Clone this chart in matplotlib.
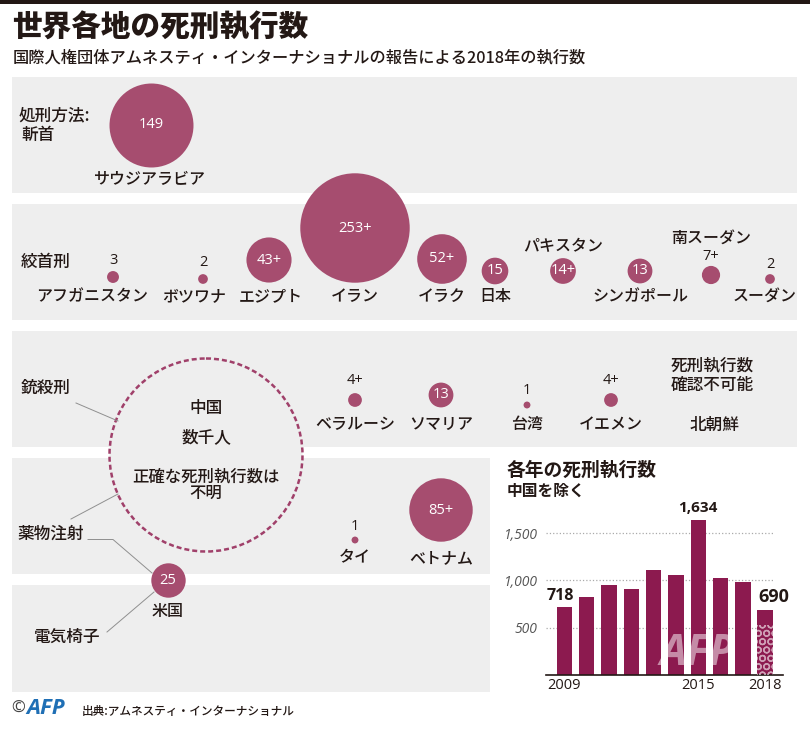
# -*- coding: utf-8 -*-
import numpy as np
import matplotlib
matplotlib.use('Agg')
import matplotlib.pyplot as plt
from matplotlib.patches import Rectangle, Circle

plt.rcParams['font.family'] = ['Noto Sans CJK JP', 'DejaVu Sans']

# --- data ---
saudi_names = ['サウジアラビア']
saudi_values = [149]
saudi_labels = ['149']

hanging_names = ['アフガニスタン', 'ボツワナ', 'エジプト', 'イラン', 'イラク', '日本',
                 'パキスタン', 'シンガポール', '南スーダン', 'スーダン']
hanging_values = [3, 2, 43, 253, 52, 15, 14, 13, 7, 2]
hanging_labels = ['3', '2', '43+', '253+', '52+', '15', '14+', '13', '7+', '2']

shooting_names = ['ベラルーシ', 'ソマリア', '台湾', 'イエメン']
shooting_values = [4, 13, 1, 4]
shooting_labels = ['4+', '13', '1', '4+']

injection_names = ['タイ', 'ベトナム']
injection_values = [1, 85]
injection_labels = ['1', '85+']

usa_names = ['米国']
usa_values = [25]
usa_labels = ['25']

years = [2009, 2010, 2011, 2012, 2013, 2014, 2015, 2016, 2017, 2018]
executions = [718, 823, 949, 907, 1107, 1055, 1634, 1027, 988, 690]
year_ticks = [2009, 2015, 2018]
count_ticks = [500, 1000, 1500]

# --- layout (pixels) ---
saudi_x, saudi_y, saudi_text = [151], [125], [(150, 178)]
hanging_x = [113, 203, 269, 355, 442, 495, 563, 640, 711, 770]
hanging_y = [277, 279, 260, 228, 259, 271, 271, 271, 275, 279]
hanging_text = [(92, 295), (194, 295), (271, 295), (355, 295), (442, 295), (495, 295),
                (563, 245), (640, 295), (711, 237), (765, 295)]
hanging_num = [(113, 260), (203, 263), None, None, None, None, None, None, (711, 256), (770, 265)]
shooting_x = [355, 441, 527, 611]
shooting_y = [400, 395, 405, 400]
shooting_text = [(355, 423), (441, 423), (527, 423), (611, 423)]
shooting_num = [(355, 381), None, (527, 390), (611, 380)]
injection_x = [355, 441]
injection_y = [540, 510]
injection_text = [(355, 556), (441, 557)]
injection_num = [(355, 527), None]
usa_x, usa_y, usa_text = [167.5], [580], [(168, 610)]

INK = '#231815'
BUBBLE = '#a64d6f'
BAR = '#8c1a4f'
PANEL = '#eeeeee'
LINE = '#8f8f8f'
NUM_FONT = ['Open Sans', 'Noto Sans CJK JP']
LATIN = ['Open Sans', 'DejaVu Sans']

fig = plt.figure(figsize=(8.1, 7.3), dpi=100)
ax = fig.add_axes([0, 0, 1, 1])
ax.set_xlim(0, 810)
ax.set_ylim(730, 0)
ax.axis('off')

ax.add_patch(Rectangle((0, 0), 810, 4, color=INK, lw=0))
for x0, y0, w, h in [(12, 77, 785, 116), (12, 204, 785, 116), (12, 331, 785, 116),
                     (12, 458, 478, 116), (12, 585, 478, 107)]:
    ax.add_patch(Rectangle((x0, y0), w, h, color=PANEL, lw=0, zorder=0))


def txt(x, y, s, size=11.5, ha='center', weight='medium', color=INK, **kw):
    ax.text(x, y, s, fontsize=size, ha=ha, va='center', fontweight=weight, color=color, **kw)


def bubbles(xs, ys, values, labels, names, text_pos, num_pos=None):
    r = 3.44 * np.sqrt(values)
    s = (2 * r * 0.72) ** 2
    ax.scatter(xs, ys, s=s, color=BUBBLE, lw=0, zorder=3)
    for i in range(len(xs)):
        txt(text_pos[i][0], text_pos[i][1] + 1.5, names[i], zorder=4)
        if num_pos is not None and num_pos[i] is not None:
            txt(num_pos[i][0], num_pos[i][1], labels[i], size=10.5, family=NUM_FONT, zorder=4)
        else:
            txt(xs[i], ys[i], labels[i], size=10.5, color='white', family=NUM_FONT, zorder=4)


txt(12, 28, '世界各地の死刑執行数', size=21.3, ha='left', weight='black')
txt(13, 58, '国際人権団体アムネスティ・インターナショナルの報告による2018年の執行数', size=11.7, ha='left')

# China circle sits over the gap between the panels
ax.add_patch(Circle((206, 455), 96.5, fc=PANEL, ec='#a0406a', lw=1.8, ls=(0, (2.0, 1.2)), zorder=1))

bubbles(saudi_x, saudi_y, saudi_values, saudi_labels, saudi_names, saudi_text)
bubbles(hanging_x, hanging_y, hanging_values, hanging_labels, hanging_names, hanging_text, hanging_num)
bubbles(shooting_x, shooting_y, shooting_values, shooting_labels, shooting_names, shooting_text, shooting_num)
bubbles(injection_x, injection_y, injection_values, injection_labels, injection_names, injection_text, injection_num)
bubbles(usa_x, usa_y, usa_values, usa_labels, usa_names, usa_text)

# methods
txt(19, 115, '処刑方法:', ha='left', size=12)
txt(21, 135, '斬首', ha='left', size=12)
txt(21, 262, '絞首刑', ha='left', size=12)
txt(21, 388, '銃殺刑', ha='left', size=12)
txt(17, 534, '薬物注射', ha='left', size=12)
txt(34, 637, '電気椅子', ha='left', size=12)
txt(671, 365, '死刑執行数', ha='left', size=12)
txt(671, 385, '確認不可能', ha='left', size=12)
txt(715, 425, '北朝鮮', size=12)

txt(206, 408, '中国', size=12)
txt(206, 437, '数千人', size=12)
txt(206, 477, '正確な死刑執行数は', size=11.8)
txt(206, 493, '不明', size=11.8)

# leader lines
for lx, ly in [([76, 118], [403, 421]), ([71, 118], [519, 494]),
               ([88, 113, 152], [539.5, 539.5, 573]), ([107, 154], [632, 592])]:
    ax.plot(lx, ly, color=LINE, lw=0.7, zorder=2)

# bar chart
txt(507, 470, '各年の死刑執行数', size=13.5, ha='left', weight='bold')
txt(507, 491, '中国を除く', size=11.3, ha='left', weight='bold')

bx = fig.add_axes([546 / 810, (730 - 675.3) / 730, 237 / 810, 165.3 / 730])
pos = np.arange(len(years))
bx.bar(pos, executions, width=0.69, color=BAR, lw=0, zorder=2)
bx.set_xlim(-0.825, 9.80)
bx.set_ylim(0, 1743)
bx.patch.set_alpha(0)
for side in ['top', 'right', 'left']:
    bx.spines[side].set_visible(False)
bx.spines['bottom'].set_color(INK)
bx.spines['bottom'].set_linewidth(1.2)
bx.set_yticks(count_ticks)
bx.set_yticklabels([f'{c:,}' for c in count_ticks], fontsize=10, style='italic',
                   color='#555555', family=LATIN)
bx.set_xticks([years.index(y) for y in year_ticks])
bx.set_xticklabels(year_ticks, fontsize=10.5, color=INK, family=LATIN)
bx.tick_params(length=0, axis='both')
bx.tick_params(axis='y', pad=6)
bx.tick_params(axis='x', pad=2)
bx.hlines(count_ticks, -0.825, 9.37, color='#aaaaaa', ls=':', lw=0.9, zorder=1)

for i, off, size in [(0, (-3, 8), 11.5), (6, (0, 9), 11), (9, (6, 9), 13)]:
    bx.annotate(f'{executions[i]:,}', (pos[i], executions[i]), xytext=off, textcoords='offset points',
                ha='center', va='center', fontsize=size, fontweight='bold', color=INK, family=LATIN)

# agency mark over the bars
bx.text(5.95, 235, 'AFP', fontsize=31, fontweight='bold', style='italic', color='white', alpha=0.5,
        ha='center', va='center', family=LATIN, zorder=5)
bx.bar(pos[-1], 530, width=0.69, facecolor='none', edgecolor='#ffffff88', lw=0, hatch='OO', zorder=4)

# footer
txt(18, 709, '©', size=12, color='#444444', family=LATIN)
txt(46, 709, 'AFP', size=16, color='#1f6fb5', weight='bold', style='italic', family=LATIN)
txt(82, 712, '出典:アムネスティ・インターナショナル', size=8.4, ha='left')

fig.savefig('out.png', dpi=100)
